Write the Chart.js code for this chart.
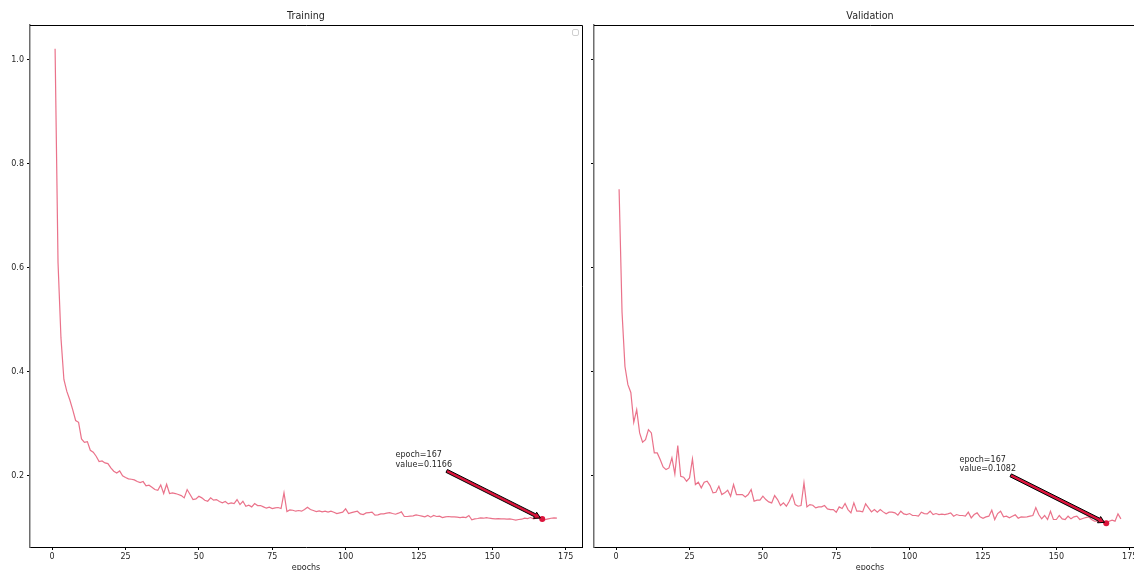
<!DOCTYPE html>
<html>
<head>
<meta charset="utf-8">
<title>Training / Validation</title>
<script src="https://cdn.jsdelivr.net/npm/chart.js@4.4.1/dist/chart.umd.min.js"></script>
<style>
  html, body { margin: 0; padding: 0; background: #fff; }
  body { width: 1134px; height: 570px; overflow: hidden; position: relative; }
  canvas { position: absolute; top: 0; }
  #trainChart { left: 0; }
  #valChart { left: 588px; }
</style>
</head>
<body>
<canvas id="trainChart" width="590" height="600"></canvas>
<canvas id="valChart" width="566" height="600"></canvas>
<script>
// loss per epoch (epochs 1..172)
const trainLoss = [
  1.0215, 0.610, 0.465, 0.385, 0.362, 0.346, 0.327, 0.306, 0.3025, 0.2705,
  0.264, 0.2654, 0.2487, 0.2449, 0.2372, 0.2269, 0.2282, 0.2244, 0.2231, 0.2147,
  0.2083, 0.2051, 0.2090, 0.1994, 0.1962, 0.1936, 0.1929, 0.1917, 0.1885, 0.1865,
  0.1885, 0.1801, 0.1814, 0.1776, 0.1731, 0.1718, 0.1821, 0.1654, 0.1833, 0.1654,
  0.1667, 0.1654, 0.1635, 0.1615, 0.1571, 0.1731, 0.1635, 0.1538, 0.1551, 0.1603,
  0.1571, 0.1526, 0.1506, 0.1571, 0.1526, 0.1538, 0.1500, 0.1474, 0.1500, 0.1455,
  0.1474, 0.1462, 0.1538, 0.1442, 0.1506, 0.1410, 0.1429, 0.1397, 0.1462, 0.1423,
  0.1423, 0.1397, 0.1372, 0.1391, 0.1365, 0.1378, 0.1385, 0.1365, 0.1667, 0.1308,
  0.1340, 0.1333, 0.1314, 0.1327, 0.1314, 0.1346, 0.1391, 0.1346, 0.1327, 0.1308,
  0.1321, 0.1301, 0.1314, 0.1295, 0.1314, 0.1295, 0.1269, 0.1282, 0.1295, 0.1359,
  0.1269, 0.1288, 0.1301, 0.1314, 0.1263, 0.1250, 0.1282, 0.1288, 0.1295, 0.1237,
  0.1244, 0.1263, 0.1263, 0.1276, 0.1288, 0.1269, 0.1256, 0.1276, 0.1301, 0.1212,
  0.1212, 0.1218, 0.1224, 0.1244, 0.1231, 0.1218, 0.1205, 0.1231, 0.1199, 0.1231,
  0.1212, 0.1218, 0.1192, 0.1205, 0.1212, 0.1205, 0.1205, 0.1199, 0.1192, 0.1199,
  0.1192, 0.1231, 0.1147, 0.1167, 0.1173, 0.1186, 0.1179, 0.1192, 0.1179, 0.1173,
  0.1167, 0.1173, 0.1167, 0.1167, 0.1160, 0.1167, 0.1154, 0.1141, 0.1154, 0.1160,
  0.1179, 0.1173, 0.1192, 0.1167, 0.1179, 0.1186, 0.1166, 0.1154, 0.1167, 0.1179,
  0.1186, 0.1179
];

const valLoss = [
  0.7513, 0.515, 0.410, 0.375, 0.360, 0.3026, 0.327, 0.2821, 0.2641, 0.2692,
  0.2885, 0.2821, 0.2436, 0.2436, 0.2308, 0.2167, 0.2115, 0.2147, 0.2340, 0.2032,
  0.2577, 0.1987, 0.1968, 0.1891, 0.1955, 0.2321, 0.1827, 0.1872, 0.1763, 0.1872,
  0.1891, 0.1808, 0.1667, 0.1679, 0.1795, 0.1635, 0.1667, 0.1718, 0.1603, 0.1827,
  0.1635, 0.1635, 0.1635, 0.1590, 0.1635, 0.1731, 0.1506, 0.1526, 0.1526, 0.1603,
  0.1538, 0.1494, 0.1474, 0.1615, 0.1538, 0.1423, 0.1474, 0.1410, 0.1506, 0.1635,
  0.1442, 0.1410, 0.1423, 0.1859, 0.1397, 0.1442, 0.1429, 0.1378, 0.1397, 0.1397,
  0.1423, 0.1359, 0.1346, 0.1346, 0.1295, 0.1397, 0.1365, 0.1462, 0.1346, 0.1282,
  0.1474, 0.1314, 0.1314, 0.1301, 0.1455, 0.1378, 0.1301, 0.1346, 0.1295, 0.1346,
  0.1301, 0.1263, 0.1295, 0.1295, 0.1282, 0.1237, 0.1314, 0.1263, 0.1250, 0.1269,
  0.1231, 0.1231, 0.1218, 0.1295, 0.1269, 0.1263, 0.1314, 0.1250, 0.1269, 0.1250,
  0.1256, 0.1250, 0.1263, 0.1282, 0.1218, 0.1250, 0.1231, 0.1231, 0.1218, 0.1295,
  0.1186, 0.1250, 0.1282, 0.1205, 0.1179, 0.1205, 0.1218, 0.1333, 0.1154, 0.1269,
  0.1314, 0.1205, 0.1218, 0.1186, 0.1218, 0.1244, 0.1179, 0.1205, 0.1199, 0.1205,
  0.1218, 0.1231, 0.1385, 0.1250, 0.1167, 0.1231, 0.1154, 0.1314, 0.1154, 0.1154,
  0.1231, 0.1167, 0.1154, 0.1218, 0.1167, 0.1205, 0.1218, 0.1154, 0.1173, 0.1192,
  0.1205, 0.1154, 0.1122, 0.1122, 0.1122, 0.1103, 0.1082, 0.1122, 0.1141, 0.1122,
  0.1263, 0.1167
];

const epochs = trainLoss.map((_, i) => i + 1);
const bestEpoch = 167;

const xTicks = [0, 25, 50, 75, 100, 125, 150, 175];
const yTicks = [0.2, 0.4, 0.6, 0.8, 1.0];

// axis limits (matplotlib-style 5% margins, y shared by both panels)
const X_MIN = -7.55, X_MAX = 180.55;
const Y_MIN = 0.0625, Y_MAX = 1.0673;

const LINE_COLOR = 'rgba(220, 20, 60, 0.6)';
const MARK_COLOR = '#dc143c';
const TEXT_COLOR = '#262626';

Chart.defaults.font.family = '"DejaVu Sans", sans-serif';
Chart.defaults.color = TEXT_COLOR;

// top + right spines (chart.js only draws the axis borders)
const framePlugin = {
  id: 'frame',
  afterDraw(chart) {
    const { ctx, chartArea: a } = chart;
    ctx.save();
    ctx.strokeStyle = '#000';
    ctx.lineWidth = 1;
    ctx.beginPath();
    ctx.moveTo(a.left, a.top + 0.5);
    ctx.lineTo(a.right + 0.5, a.top + 0.5);
    ctx.lineTo(a.right + 0.5, a.bottom);
    ctx.stroke();
    ctx.restore();
  }
};

// the empty legend box in the corner of the first panel
const emptyLegendPlugin = {
  id: 'emptyLegend',
  afterDraw(chart, args, opts) {
    if (!opts.show) return;
    const { ctx, chartArea: a } = chart;
    const x = a.right - 10, y = a.top + 4, s = 6;
    ctx.save();
    ctx.strokeStyle = '#cfcfcf';
    ctx.fillStyle = '#fff';
    ctx.lineWidth = 1;
    ctx.beginPath();
    ctx.roundRect(x + 0.5, y + 0.5, s, s, 1.5);
    ctx.fill();
    ctx.stroke();
    ctx.restore();
  }
};

// "epoch=.. value=.." note with an arrow pointing at the marked epoch
const bestNotePlugin = {
  id: 'bestNote',
  afterDatasetsDraw(chart, args, opts) {
    const { ctx, scales: { x, y } } = chart;
    const px = x.getPixelForValue(opts.epoch);
    const py = y.getPixelForValue(opts.value);
    const tx = x.getPixelForValue(opts.epoch - 50);
    const ty = y.getPixelForValue(opts.value + 0.1);
    const lines = ['epoch=' + opts.epoch, 'value=' + opts.value.toFixed(4)];

    ctx.save();
    ctx.font = '8px "DejaVu Sans", sans-serif';
    ctx.fillStyle = TEXT_COLOR;
    ctx.textAlign = 'left';
    ctx.textBaseline = 'alphabetic';
    ctx.fillText(lines[0], tx, ty - 9.5);
    ctx.fillText(lines[1], tx, ty);

    const w = Math.max(...lines.map(l => ctx.measureText(l).width));
    const box = { left: tx, right: tx + w, top: ty - 17, bottom: ty + 2 };
    const cx = (box.left + box.right) / 2, cy = (box.top + box.bottom) / 2;
    const dx = px - cx, dy = py - cy;
    const pad = 2;
    let t = 1;
    if (dx > 0) t = Math.min(t, (box.right + pad - cx) / dx);
    if (dy > 0) t = Math.min(t, (box.bottom + pad - cy) / dy);
    const len = Math.hypot(dx, dy);
    const ux = dx / len, uy = dy / len, nx = -uy, ny = ux;
    const sx = cx + dx * t, sy = cy + dy * t;
    const ex = px - ux * 2, ey = py - uy * 2;
    const bw = 1.6, hw = 3.5, hl = 6;
    const bx = ex - ux * hl, by = ey - uy * hl;

    ctx.beginPath();
    ctx.moveTo(sx + nx * bw, sy + ny * bw);
    ctx.lineTo(bx + nx * bw, by + ny * bw);
    ctx.lineTo(bx + nx * hw, by + ny * hw);
    ctx.lineTo(ex, ey);
    ctx.lineTo(bx - nx * hw, by - ny * hw);
    ctx.lineTo(bx - nx * bw, by - ny * bw);
    ctx.lineTo(sx - nx * bw, sy - ny * bw);
    ctx.closePath();
    ctx.fillStyle = MARK_COLOR;
    ctx.fill();
    ctx.strokeStyle = '#000';
    ctx.lineWidth = 1;
    ctx.stroke();
    ctx.restore();
  }
};

function buildPanel(canvasId, title, values, yLabels, yWidth, legendBox) {
  const ctx = document.getElementById(canvasId).getContext('2d');
  const best = values[epochs.indexOf(bestEpoch)];

  return new Chart(ctx, {
    type: 'line',
    data: {
      datasets: [
        {
          data: [{ x: bestEpoch, y: best }],
          showLine: false,
          pointRadius: 3,
          pointBackgroundColor: MARK_COLOR,
          pointBorderColor: MARK_COLOR,
          pointBorderWidth: 0,
        },
        {
          data: epochs.map((e, i) => ({ x: e, y: values[i] })),
          borderColor: LINE_COLOR,
          borderWidth: 1.2,
          pointRadius: 0,
          tension: 0,
          fill: false,
        },
      ],
    },
    options: {
      responsive: false,
      animation: false,
      events: [],
      layout: { padding: { left: 0, right: 8, top: 0, bottom: 0 } },
      plugins: {
        legend: { display: false },
        tooltip: { enabled: false },
        title: {
          display: true,
          text: title,
          fullSize: false,
          color: TEXT_COLOR,
          font: { size: 9.6, weight: 'normal' },
          padding: { top: 10.4, bottom: 3.08 },
        },
        emptyLegend: { show: legendBox },
        bestNote: { epoch: bestEpoch, value: best },
      },
      scales: {
        x: {
          type: 'linear',
          min: X_MIN,
          max: X_MAX,
          afterBuildTicks: (scale) => { scale.ticks = xTicks.map(v => ({ value: v })); },
          afterFit: (scale) => { scale.height = 53; },
          grid: { display: true, drawOnChartArea: false, drawTicks: true, tickLength: 3, color: '#000' },
          border: { display: true, color: '#000', width: 1 },
          ticks: {
            autoSkip: false,
            maxRotation: 0,
            padding: 2,
            color: TEXT_COLOR,
            font: { size: 8 },
            callback: (v) => String(v),
          },
          title: {
            display: true,
            text: 'epochs',
            color: TEXT_COLOR,
            font: { size: 8 },
            padding: { top: 0, bottom: 27.2 },
          },
        },
        y: {
          type: 'linear',
          min: Y_MIN,
          max: Y_MAX,
          afterBuildTicks: (scale) => { scale.ticks = yTicks.map(v => ({ value: v })); },
          afterFit: (scale) => { scale.width = yWidth; },
          grid: { display: true, drawOnChartArea: false, drawTicks: true, tickLength: 3, color: '#000' },
          border: { display: true, color: '#6e6e6e', width: 1.5 },
          ticks: {
            display: yLabels,
            padding: 3,
            color: TEXT_COLOR,
            font: { size: 8 },
            callback: (v) => v.toFixed(1),
          },
        },
      },
    },
    plugins: [framePlugin, emptyLegendPlugin, bestNotePlugin],
  });
}

buildPanel('trainChart', 'Training', trainLoss, true, 30, true);
buildPanel('valChart', 'Validation', valLoss, false, 6, false);
</script>
</body>
</html>
